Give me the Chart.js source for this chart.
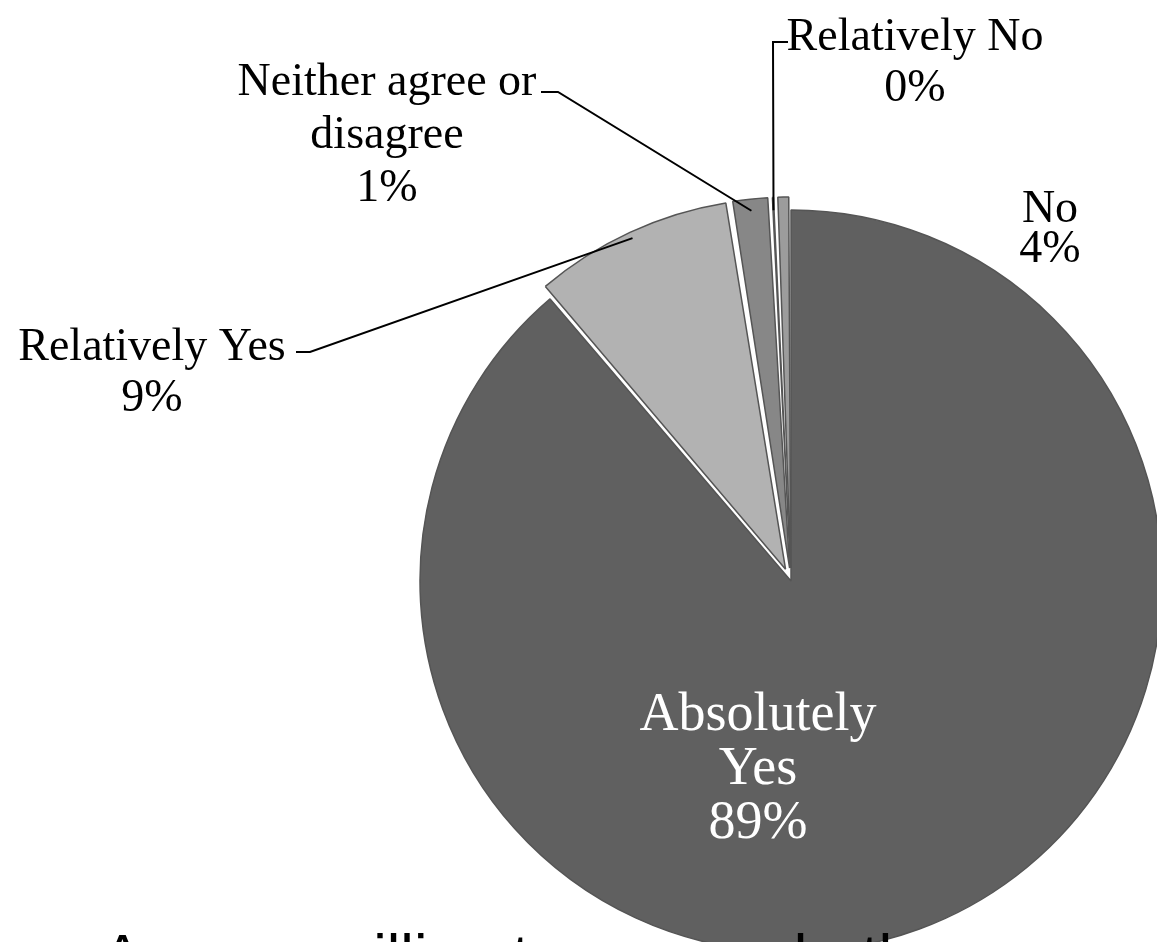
<!DOCTYPE html>
<html lang="en">
<head>
    <meta charset="UTF-8">
    <title>Are you willing</title>
    <script src="https://cdn.jsdelivr.net/npm/chart.js"></script>
    <style>
        html, body {
            margin: 0;
            padding: 0;
            background: #fff;
            overflow: hidden;
        }
        #wrap {
            width: 1157px;
            height: 942px;
        }
    </style>
</head>
<body>
    <div id="wrap"><canvas id="pieChart"></canvas></div>

    <script>
        // answers, clockwise from 12 o'clock
        const categories = ['Absolutely Yes', 'Relatively Yes', 'Neither agree or disagree', 'Relatively No', 'No'];
        const shares = [88.75, 8.72, 1.67, 0.22, 0.64];
        const shownPercent = ['89%', '9%', '1%', '0%', '4%'];
        const questionText = 'Are you willing to answer both surveys again?';

        const colors = ['#606060', '#b2b2b2', '#878787', '#5a5a5a', '#9c9c9c'];
        const explode = [0, 52, 52, 52, 52];   // chart.js moves a slice by offset/4

        // chart.js also grows an offset slice's radius; undo that so all slices keep one radius
        const keepRadius = {
            id: 'keepRadius',
            afterDatasetsUpdate(chart) {
                chart.getDatasetMeta(0).data.forEach((arc, i) => {
                    const off = explode[i] / 4;
                    const fix = 1 - Math.sin(Math.min(Math.PI, arc.circumference));
                    arc.outerRadius -= off * fix;
                });
            }
        };

        // label blocks: text lines, centre x, first baseline, line step, size, colour, leader elbow
        const labelLayout = [
            { lines: ['Absolutely', 'Yes'], x: 758, y: 730, step: 54, size: 54, color: '#fff' },
            { lines: ['Relatively Yes'], x: 152, y: 360, step: 51, size: 46, color: '#000', elbow: [310, 352], end: [296, 352] },
            { lines: ['Neither agree or', 'disagree'], x: 387, y: 95, step: 53, size: 46, color: '#000', elbow: [558, 92], end: [541, 92] },
            { lines: ['Relatively No'], x: 915, y: 50, step: 51, size: 46, color: '#000', elbow: [773, 42], end: [788, 42] },
            { lines: ['No'], x: 1050, y: 222, step: 40, size: 46, color: '#000' }
        ];

        const pieLabels = {
            id: 'pieLabels',
            afterDraw(chart) {
                const ctx = chart.ctx;
                const arcs = chart.getDatasetMeta(0).data;
                ctx.save();
                labelLayout.forEach((lab, i) => {
                    const arc = arcs[i];
                    if (lab.elbow) {
                        const mid = (arc.startAngle + arc.endAngle) / 2;
                        const r = arc.outerRadius + explode[i] / 4;
                        const ax = arc.x + Math.cos(mid) * r;
                        const ay = arc.y + Math.sin(mid) * r;
                        ctx.strokeStyle = '#000';
                        ctx.lineWidth = 2;
                        ctx.beginPath();
                        ctx.moveTo(ax, ay);
                        ctx.lineTo(lab.elbow[0], lab.elbow[1]);
                        ctx.lineTo(lab.end[0], lab.end[1]);
                        ctx.stroke();
                    }
                    ctx.fillStyle = lab.color;
                    ctx.font = lab.size + 'px "Liberation Serif", "Times New Roman", serif';
                    ctx.textAlign = 'center';
                    ctx.textBaseline = 'alphabetic';
                    const all = lab.lines.concat([shownPercent[i]]);
                    all.forEach((t, k) => ctx.fillText(t, lab.x, lab.y + k * lab.step));
                });

                // slide title, mostly below the bottom edge
                ctx.fillStyle = '#000';
                ctx.font = '61px "Liberation Sans", Arial, sans-serif';
                ctx.textAlign = 'left';
                ctx.fillText(questionText, 102, 977);
                ctx.restore();
            }
        };

        const ctx = document.getElementById('pieChart').getContext('2d');
        new Chart(ctx, {
            type: 'pie',
            data: {
                labels: categories,
                datasets: [{
                    data: shares,
                    backgroundColor: colors,
                    borderColor: '#555555',
                    borderWidth: 1.5,
                    offset: explode
                }]
            },
            options: {
                responsive: true,
                maintainAspectRatio: false,
                animation: false,
                events: [],
                radius: 371,
                layout: {
                    padding: { left: 425, top: 220, right: 0, bottom: 0 }
                },
                plugins: {
                    legend: { display: false },
                    tooltip: { enabled: false }
                }
            },
            plugins: [keepRadius, pieLabels]
        });
    </script>
</body>
</html>
